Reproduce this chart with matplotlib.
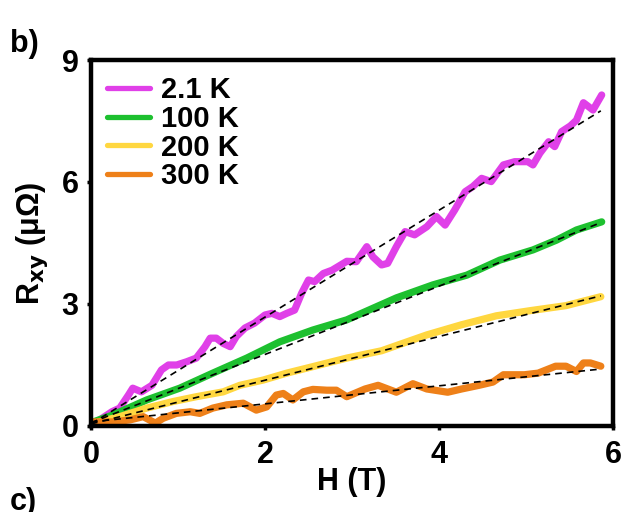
import matplotlib
matplotlib.use("Agg")
import matplotlib.pyplot as plt

plt.rcParams['font.family'] = ['Liberation Sans', 'DejaVu Sans']
plt.rcParams['font.weight'] = 'bold'

# Hall resistance vs field at four temperatures
labels = ["2.1 K", "100 K", "200 K", "300 K"]
colors = ["#E040E8", "#1DC02F", "#FFD740", "#EE8019"]

h_21 = [0.0, 0.10, 0.24, 0.33, 0.43, 0.48, 0.58, 0.70, 0.81, 0.89, 0.985, 1.10, 1.21,
        1.31, 1.37, 1.44, 1.52, 1.60, 1.67, 1.77, 1.88, 2.0, 2.08, 2.17, 2.25, 2.34,
        2.42, 2.50, 2.57, 2.67, 2.77, 2.84, 2.94, 3.05, 3.17, 3.24, 3.34, 3.41, 3.51,
        3.61, 3.72, 3.86, 3.97, 4.07, 4.18, 4.30, 4.39, 4.49, 4.60, 4.74, 4.87, 5.02,
        5.08, 5.16, 5.26, 5.33, 5.41, 5.51, 5.58, 5.66, 5.77, 5.87]
r_21 = [0.05, 0.15, 0.35, 0.44, 0.76, 0.93, 0.84, 1.0, 1.38, 1.5, 1.5, 1.58, 1.67,
        1.95, 2.16, 2.16, 2.03, 1.95, 2.2, 2.41, 2.53, 2.73, 2.77, 2.69, 2.77, 2.85,
        3.26, 3.59, 3.55, 3.75, 3.83, 3.92, 4.05, 4.04, 4.41, 4.16, 3.96, 4.0, 4.41,
        4.78, 4.70, 4.90, 5.15, 4.94, 5.31, 5.76, 5.89, 6.09, 6.01, 6.42, 6.50, 6.50,
        6.42, 6.71, 6.99, 6.87, 7.24, 7.38, 7.52, 7.95, 7.77, 8.14]

h_100 = [0.0, 0.25, 0.64, 1.02, 1.40, 1.79, 2.17, 2.55, 2.94, 3.51, 3.93, 4.32,
         4.70, 5.08, 5.35, 5.58, 5.87]
r_100 = [0.08, 0.27, 0.64, 0.93, 1.30, 1.67, 2.07, 2.36, 2.61, 3.15, 3.47, 3.71,
         4.08, 4.33, 4.57, 4.82, 5.02]

h_200 = [0.0, 0.33, 0.64, 0.94, 1.21, 1.52, 1.71, 1.98, 2.25, 2.55, 2.94, 3.34,
         3.86, 4.26, 4.66, 5.06, 5.46, 5.86]
r_200 = [0.05, 0.23, 0.44, 0.60, 0.72, 0.84, 1.0, 1.13, 1.30, 1.46, 1.67, 1.85,
         2.24, 2.49, 2.71, 2.84, 2.96, 3.18]

h_300 = [0.0, 0.25, 0.45, 0.60, 0.74, 0.83, 0.98, 1.14, 1.25, 1.40, 1.56, 1.75,
         1.90, 2.02, 2.13, 2.21, 2.32, 2.44, 2.55, 2.71, 2.82, 2.94, 3.15, 3.30,
         3.51, 3.70, 3.86, 4.10, 4.26, 4.46, 4.62, 4.74, 4.98, 5.14, 5.34, 5.46,
         5.58, 5.66, 5.74, 5.86]
r_300 = [0.1, 0.1, 0.15, 0.23, 0.07, 0.19, 0.31, 0.35, 0.31, 0.44, 0.52, 0.56,
         0.39, 0.47, 0.76, 0.80, 0.64, 0.84, 0.90, 0.88, 0.88, 0.72, 0.91, 1.0,
         0.83, 1.04, 0.91, 0.83, 0.91, 1.0, 1.08, 1.26, 1.26, 1.30, 1.47, 1.47,
         1.34, 1.55, 1.55, 1.47]

# linear fits: value at H=0 and at the last field point
fit_h = [0.0, 5.86]
fit_start = [0.05, 0.08, 0.05, 0.10]
fit_end = [7.75, 5.0, 3.2, 1.40]

curves = [(h_21, r_21), (h_100, r_100), (h_200, r_200), (h_300, r_300)]

fig = plt.figure(figsize=(6.25, 5.12), dpi=100)
ax = fig.add_axes([0.1456, 0.168, 0.8352, 0.7148])

for (h, r), c, lab in zip(curves, colors, labels):
    ax.plot(h, r, color=c, lw=5.2, label=lab, solid_joinstyle='round',
            solid_capstyle='round')
for a, b in zip(fit_start, fit_end):
    ax.plot(fit_h, [a, b], color='black', lw=1.2, ls=(0, (4, 3)))

ax.set_xlim(0, 6)
ax.set_ylim(0, 9)
ax.set_xticks([0, 2, 4, 6])
ax.set_yticks([0, 3, 6, 9])
for s in ax.spines.values():
    s.set_linewidth(3.2)
ax.tick_params(direction='out', length=3, width=2.5, labelsize=22)
ax.tick_params(axis='x', pad=7)
ax.tick_params(axis='y', pad=6)
ax.set_xlabel("H (T)", fontsize=22, fontweight='bold', labelpad=-2)
ax.set_ylabel(r"R$_{\mathbf{xy}}$ (μΩ)", fontsize=22, fontweight='bold', labelpad=8)

leg = ax.legend(loc='upper left', bbox_to_anchor=(0.03, 0.955), frameon=False,
                fontsize=21, handlelength=1.5, handletextpad=0.35,
                labelspacing=0.02, borderpad=0, borderaxespad=0)
for ln in leg.get_lines():
    ln.set_linewidth(3.8)

fig.text(0.016, 0.915, "b)", fontsize=22, fontweight='bold', va='center')
fig.text(0.016, -0.01, "c)", fontsize=22, fontweight='bold', va='bottom')

fig.savefig("out.png", dpi=100)
